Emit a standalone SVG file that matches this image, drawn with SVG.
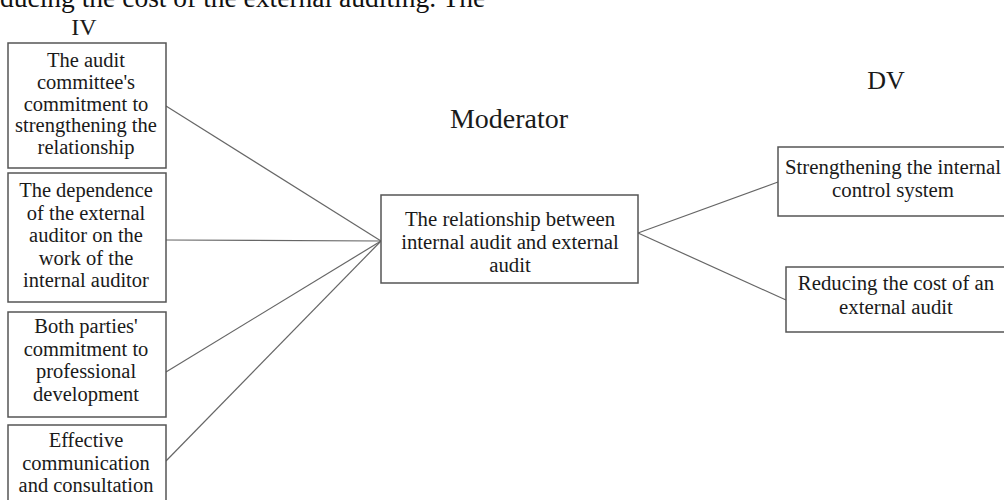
<svg xmlns="http://www.w3.org/2000/svg" width="1004" height="500" viewBox="0 0 1004 500">
<style>
.box{fill:#fff;stroke:#555;stroke-width:1.5}
.t{font-family:"Liberation Serif",serif;font-size:20.5px;fill:#1a1a1a;text-anchor:middle}
.m{font-size:20.8px}
.h{font-family:"Liberation Serif",serif;fill:#1a1a1a;text-anchor:middle}
.c{stroke:#666;stroke-width:1.2;fill:none}
</style>
<rect width="1004" height="500" fill="#fff"/>
<text x="0" y="7" style="font-family:'Liberation Serif',serif;font-size:27.5px;fill:#111">ducing the cost of the external auditing. The</text>
<text class="h" x="84" y="34.5" font-size="24">IV</text>
<text class="h" x="509" y="128" font-size="28">Moderator</text>
<text class="h" x="886" y="89" font-size="26">DV</text>
<g id="connectors">
<line class="c" x1="166" y1="106" x2="381" y2="241"/>
<line class="c" x1="166" y1="240" x2="381" y2="241"/>
<line class="c" x1="166" y1="372" x2="381" y2="241"/>
<line class="c" x1="166" y1="461" x2="381" y2="241"/>
<line class="c" x1="638" y1="233" x2="778" y2="182"/>
<line class="c" x1="638" y1="233" x2="786" y2="300"/>
</g>
<g id="iv1">
<rect class="box" x="8" y="43" width="158" height="125"/>
<text class="t" x="86" y="67">The audit</text>
<text class="t" x="86" y="88.75">committee's</text>
<text class="t" x="86" y="110.5">commitment to</text>
<text class="t" x="86" y="132.25">strengthening the</text>
<text class="t" x="86" y="154">relationship</text>
</g>
<g id="iv2">
<rect class="box" x="8" y="173" width="158" height="129"/>
<text class="t" x="86" y="197">The dependence</text>
<text class="t" x="86" y="219.5">of the external</text>
<text class="t" x="86" y="242">auditor on the</text>
<text class="t" x="86" y="264.5">work of the</text>
<text class="t" x="86" y="287">internal auditor</text>
</g>
<g id="iv3">
<rect class="box" x="8" y="312" width="158" height="105"/>
<text class="t" x="86" y="333">Both parties'</text>
<text class="t" x="86" y="355.5">commitment to</text>
<text class="t" x="86" y="378">professional</text>
<text class="t" x="86" y="400.5">development</text>
</g>
<g id="iv4">
<rect class="box" x="8" y="425" width="158" height="85"/>
<text class="t" x="86" y="447">Effective</text>
<text class="t" x="86" y="469.5">communication</text>
<text class="t" x="86" y="492">and consultation</text>
</g>
<g id="moderator">
<rect class="box" x="381" y="195" width="257" height="88"/>
<text class="t m" x="510" y="226">The relationship between</text>
<text class="t m" x="510" y="249">internal audit and external</text>
<text class="t m" x="510" y="272">audit</text>
</g>
<g id="dv1">
<rect class="box" x="778" y="147" width="240" height="69"/>
<text class="t m" x="893" y="174">Strengthening the internal</text>
<text class="t m" x="893" y="197">control system</text>
</g>
<g id="dv2">
<rect class="box" x="786" y="267" width="240" height="65"/>
<text class="t m" x="896" y="290">Reducing the cost of an</text>
<text class="t m" x="896" y="314">external audit</text>
</g>
</svg>
